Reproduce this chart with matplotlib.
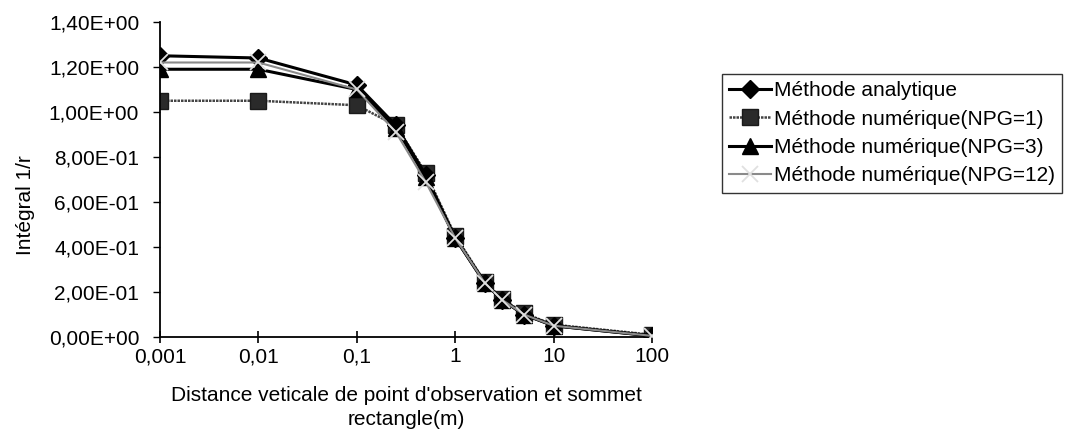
import matplotlib
matplotlib.use("Agg")
import matplotlib.pyplot as plt
from matplotlib.ticker import FuncFormatter, FixedLocator

plt.rcParams['font.family'] = ['Liberation Sans', 'DejaVu Sans']

# distance (m)
distance = [0.001, 0.01, 0.1, 0.25, 0.5, 1, 2, 3, 5, 10, 100]

analytique = [1.25, 1.24, 1.12, 0.94, 0.72, 0.44, 0.24, 0.165, 0.10, 0.05, 0.005]
npg1 = [1.05, 1.05, 1.03, 0.94, 0.73, 0.45, 0.245, 0.17, 0.105, 0.055, 0.01]
npg3 = [1.19, 1.19, 1.10, 0.93, 0.71, 0.44, 0.24, 0.165, 0.10, 0.05, 0.005]
npg12 = [1.22, 1.22, 1.10, 0.91, 0.69, 0.44, 0.24, 0.165, 0.10, 0.05, 0.005]

x_ticks = [0.001, 0.01, 0.1, 1, 10, 100]
x_labels = ["0,001", "0,01", "0,1", "1", "10", "100"]
y_ticks = [0.0, 0.2, 0.4, 0.6, 0.8, 1.0, 1.2, 1.4]

FS = 15


def sci_fr(v, pos):
    # 1.2 -> "1,20E+00"
    s = "%.2E" % v
    mant, exp = s.split("E")
    return mant.replace(".", ",") + "E" + exp


fig = plt.figure(figsize=(10.68, 4.42), dpi=100)
ax = fig.add_axes([160 / 1068, 1 - 337 / 442, (652 - 160) / 1068, (337 - 22) / 442])

ax.plot(distance, analytique, color="black", lw=2.2, marker="D", ms=9,
        label="Méthode analytique", zorder=3)
ax.plot(distance, npg1, color="#444444", lw=1.8, ls=(0, (1, 0.4)), marker="s", ms=11,
        mfc="#2a2a2a", mec="#1a1a1a", label="Méthode numérique(NPG=1)", zorder=2)
ax.plot(distance, npg3, color="black", lw=2.2, marker="^", ms=11,
        label="Méthode numérique(NPG=3)", zorder=3)
ax.plot(distance, npg12, color="#8a8a8a", lw=1.5, marker="x", ms=11, mew=1.3,
        mec="#e0e0e0", label="Méthode numérique(NPG=12)", zorder=4)

ax.set_xscale("log")
ax.set_xlim(0.001, 100)
ax.set_ylim(0, 1.4)
ax.xaxis.set_major_locator(FixedLocator(x_ticks))
ax.set_xticklabels(x_labels)
ax.xaxis.set_minor_locator(FixedLocator([]))
ax.set_yticks(y_ticks)
ax.yaxis.set_major_formatter(FuncFormatter(sci_fr))

for s in ["top", "right"]:
    ax.spines[s].set_visible(False)
for s in ["left", "bottom"]:
    ax.spines[s].set_linewidth(1.3)
ax.tick_params(axis="x", direction="inout", length=9, width=1.2, labelsize=FS, pad=3)
ax.tick_params(axis="y", direction="out", length=5, width=1, labelsize=FS, pad=10)

ax.set_ylabel("Intégral 1/r", fontsize=FS, labelpad=14)
ax.yaxis.set_label_coords(-0.255, 0.42)
ax.set_xlabel("Distance veticale de point d'observation et sommet\nrectangle(m)",
              fontsize=FS, labelpad=14, linespacing=1.35)

leg = ax.legend(loc="upper right", bbox_to_anchor=(1062 / 1068, 1 - 74 / 442),
                bbox_transform=fig.transFigure, fontsize=FS, frameon=True,
                fancybox=False, edgecolor="black", handlelength=2.0,
                handletextpad=0.15, borderpad=0.35, labelspacing=0.45,
                borderaxespad=0)
leg.get_frame().set_linewidth(1.0)

fig.savefig("out.png", dpi=100)
